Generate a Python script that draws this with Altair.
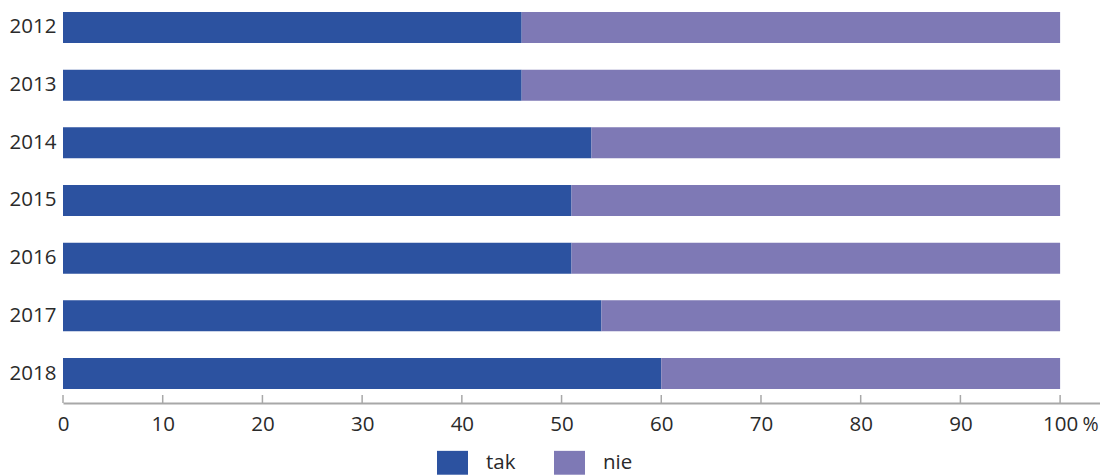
import altair as alt
import pandas as pd

years = ["2012", "2013", "2014", "2015", "2016", "2017", "2018"]
tak = [46, 46, 53, 51, 51, 54, 60]
nie = [54, 54, 47, 49, 49, 46, 40]
ticks = [0, 10, 20, 30, 40, 50, 60, 70, 80, 90, 100]

rows = []
for y, t, n in zip(years, tak, nie):
    rows.append({"rok": y, "odp": "tak", "v": t, "o": 0})
    rows.append({"rok": y, "odp": "nie", "v": n, "o": 1})
df = pd.DataFrame(rows)
tdf = pd.DataFrame({"t": ticks})

FONT = "Open Sans"
FS = 20.5
xscale = alt.Scale(domain=[0, 104.0], nice=False, zero=True)

bars = alt.Chart(df).mark_bar().encode(
    y=alt.Y("rok:N", sort=years,
            scale=alt.Scale(paddingInner=0.4625, paddingOuter=0.156, align=0.222),
            axis=alt.Axis(title=None, ticks=False, domain=False, labelFontSize=FS,
                          labelFont=FONT, labelColor="#2a2a2a", labelPadding=7)),
    x=alt.X("v:Q", stack="zero", scale=xscale,
            axis=alt.Axis(values=ticks, tickSize=0, domainColor="#a8a8a8", domainWidth=2,
                          labelFontSize=FS, labelFont=FONT, labelColor="#2a2a2a",
                          labelPadding=11, labelFlush=False, grid=False, title="%",
                          titleFont=FONT, titleFontSize=19.5, titleFontWeight="normal",
                          titleColor="#2a2a2a", titleX=1027, titleY=21, titleAngle=0,
                          titleAlign="center", titleBaseline="middle")),
    color=alt.Color("odp:N", scale=alt.Scale(domain=["tak", "nie"], range=["#2c52a0", "#7e79b5"]),
                    legend=alt.Legend(title=None, orient="none", direction="horizontal",
                                      legendX=374, legendY=439, symbolType="M-1,-0.77H1V0.77H-1Z",
                                      symbolSize=961, symbolStrokeWidth=0, labelFont=FONT,
                                      labelFontSize=FS, labelColor="#2a2a2a", labelOffset=18,
                                      columnPadding=38, padding=0)),
    order=alt.Order("o:Q"),
)

tickmarks = alt.Chart(tdf).mark_rule(color="#a8a8a8", strokeWidth=1.5).encode(
    x=alt.X("t:Q", scale=xscale),
    y=alt.value(387), y2=alt.value(395),
)

chart = alt.layer(bars, tickmarks).properties(
    width=1037, height=395,
    autosize=alt.AutoSizeParams(type="none"),
    padding={"left": 55, "top": 0, "right": 0, "bottom": 72},
).configure_view(stroke=None)

chart.save("out.html", embed_options={"renderer": "svg", "actions": False})
